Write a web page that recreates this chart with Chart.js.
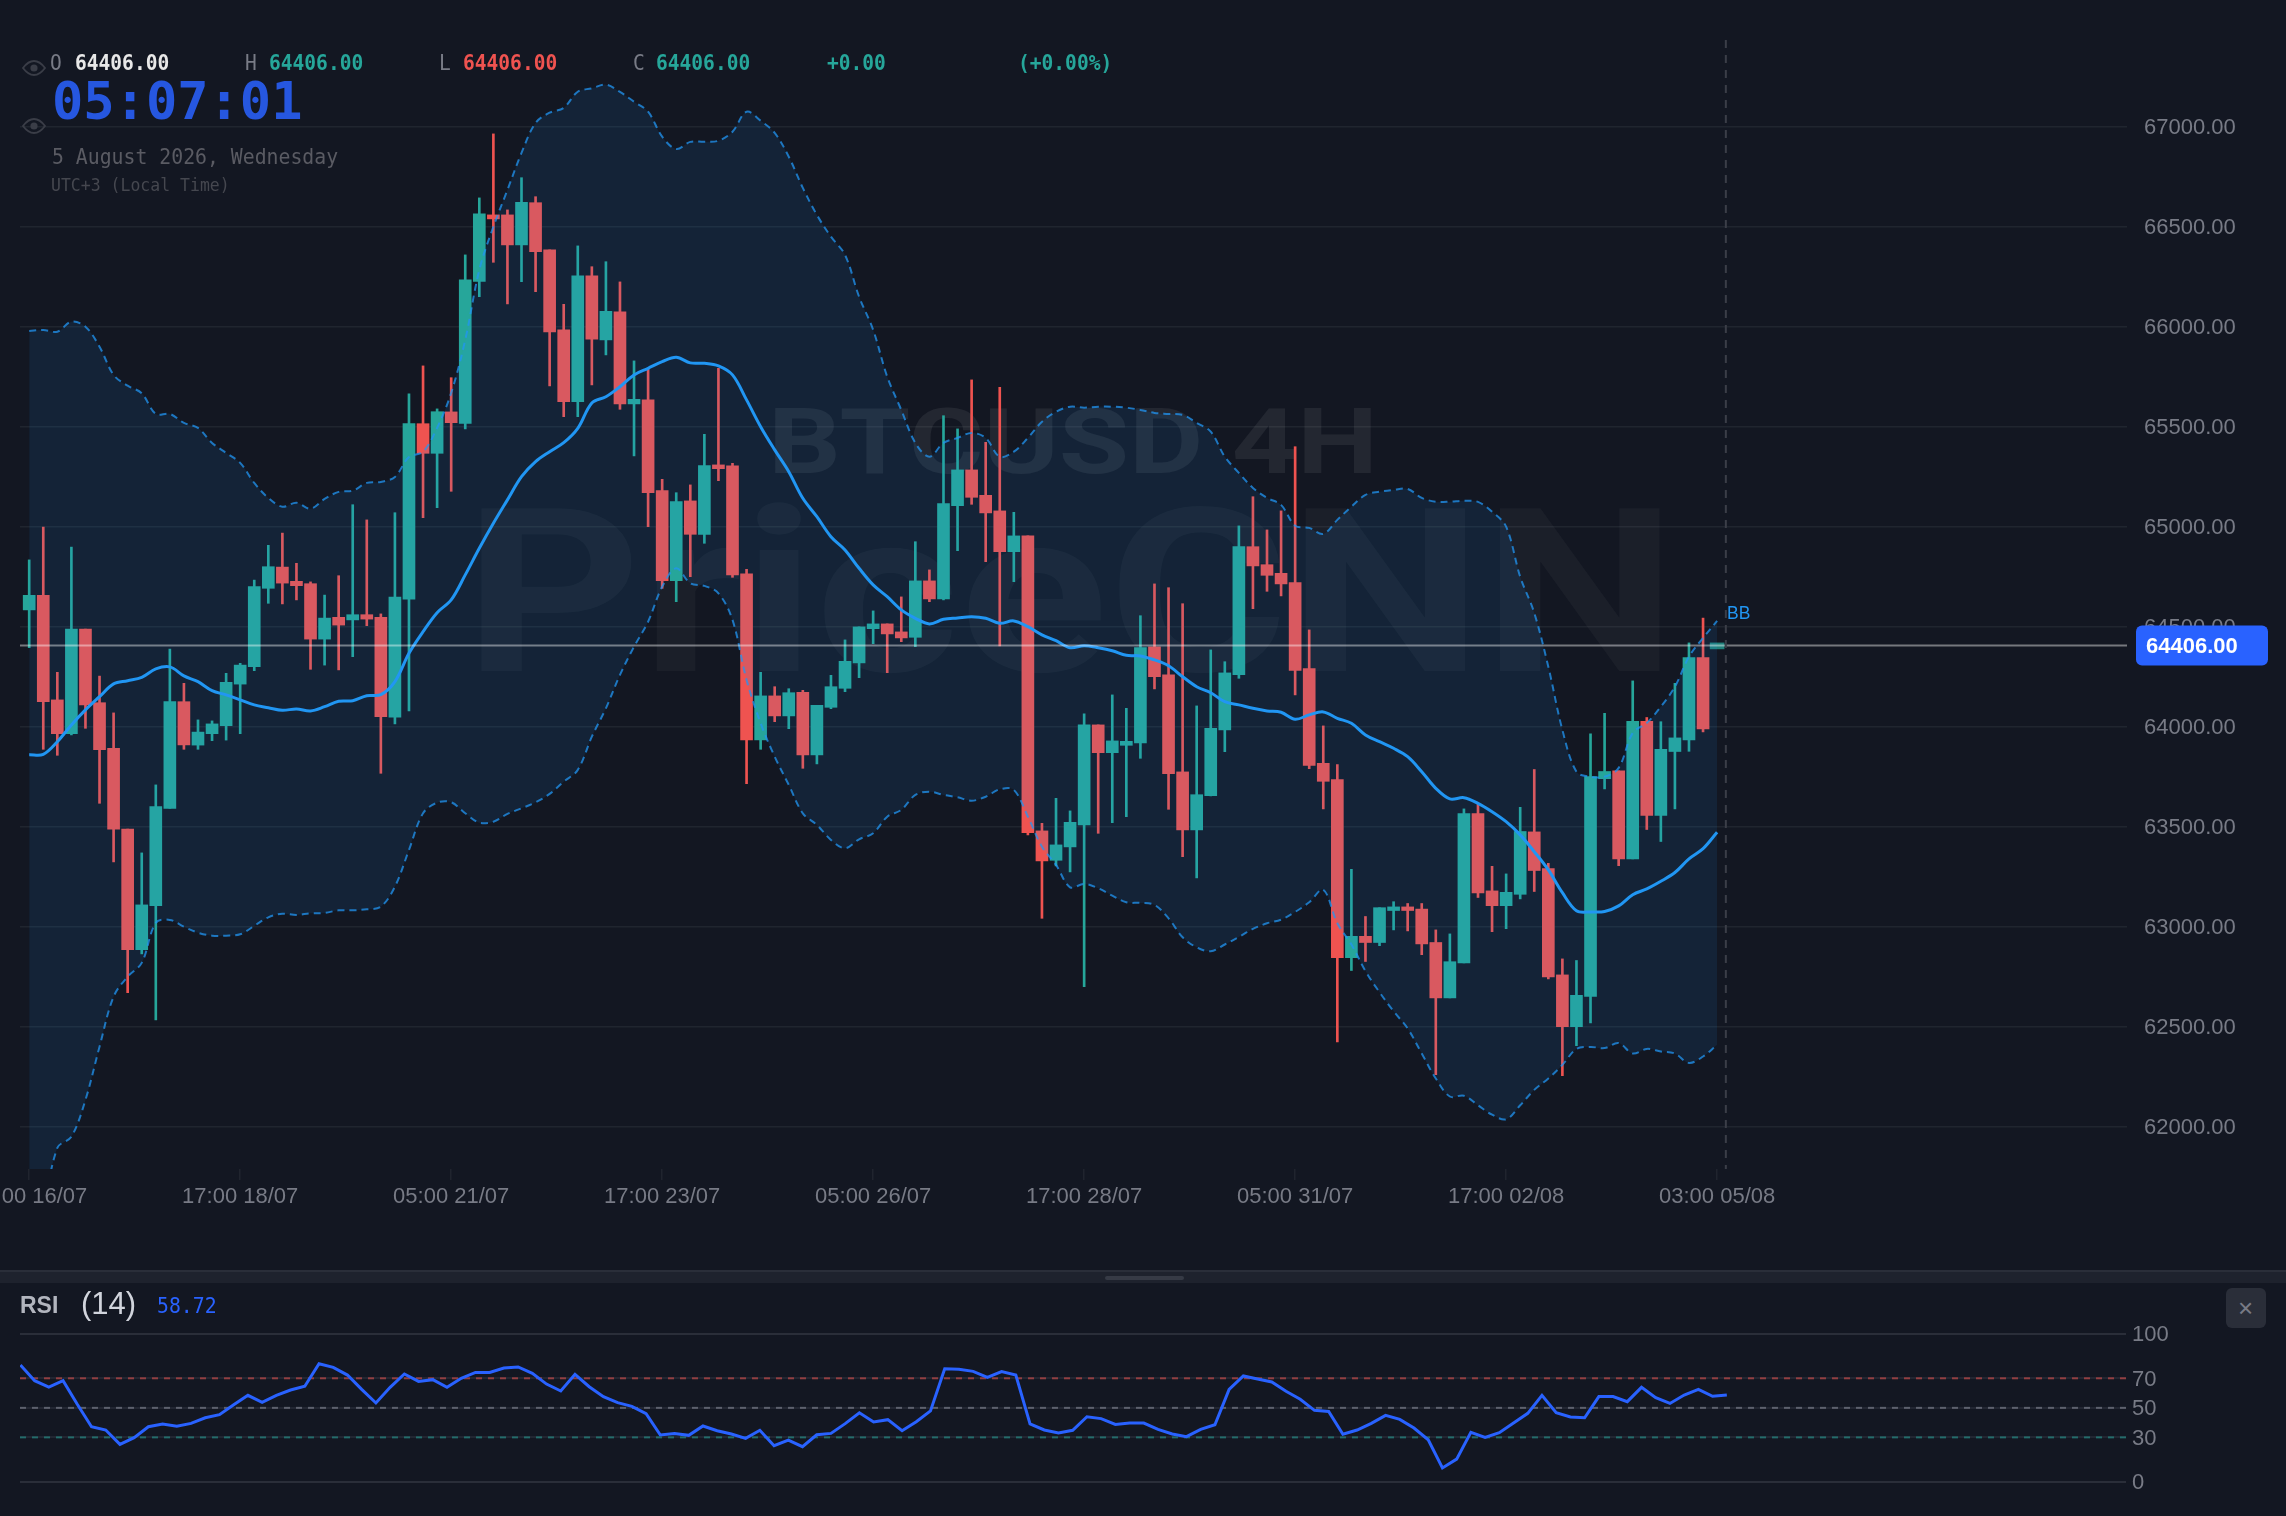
<!DOCTYPE html>
<html><head><meta charset="utf-8">
<script src="https://cdn.jsdelivr.net/npm/chart.js@4"></script>
<style>
html,body{margin:0;padding:0;background:#131722;width:2286px;height:1516px;overflow:hidden}
canvas{position:absolute;left:0;display:block}
.t{position:absolute;white-space:pre;line-height:1;font-family:"DejaVu Sans Mono",monospace;transform-origin:left center}
.s{position:absolute}
</style></head><body>
<canvas id="main" width="2286" height="1270" style="top:0"></canvas>
<canvas id="rsi" width="2286" height="232" style="top:1284px"></canvas>
<div id="ui"></div>
<script>
const opens=[64584,64657,64134,63965,64488,64120,63892,63488,62885,63105,63592,64125,63908,63965,64005,64213,64300,64692,64798,64727,64715,64438,64547,64534,64560,64547,64048,64638,65515,65367,65574,65517,66227,66559,66559,66409,66620,66384,65984,65625,66254,65934,66074,65614,65634,65180,64730,65129,64962,65309,65304,64764,63934,64154,64054,64172,63859,64097,64192,64319,64490,64514,64474,64447,64729,64639,65105,65284,65157,65079,64875,64954,63479,63332,63399,63509,64009,63870,63907,63919,64399,64259,63774,63484,63655,63984,64260,64900,64810,64767,64720,64290,63817,63736,62845,62952,62921,63081,63099,63088,62921,62644,62819,63566,63179,63105,63162,63474,63290,62759,62500,62651,63740,63779,63339,64027,63556,63876,63934,64345];
const highs=[64834,64998,64272,64898,64488,64253,64069,63488,63369,63709,64388,64217,64034,64029,64267,64317,64733,64907,64968,64817,64724,64658,64755,65110,65034,64564,65070,65664,65804,65589,65745,66359,66644,66964,66584,66745,66650,66384,66112,66404,66300,66325,66224,65829,65792,65237,65170,65209,65462,65792,65317,64787,64272,64200,64190,64182,64107,64257,64434,64499,64579,64514,64649,64925,64784,65555,65489,65734,65422,65697,65072,64954,63517,63642,63579,64064,64009,64159,64092,64555,64714,64695,64615,64104,64384,64325,65004,65150,64984,65079,65400,64484,64004,63811,63287,63051,63095,63125,63116,63116,62984,62964,63589,63614,63302,63264,63597,63786,63317,62839,62831,63964,64067,63779,64229,64046,64025,64217,64419,64543];
const lows=[64395,63887,63857,63959,63992,63617,63324,62670,62864,62534,63592,63887,63887,63930,63933,63965,64280,64617,64614,64634,64287,64308,64284,64350,64505,63767,64014,64079,65045,65095,65177,65489,66150,66322,66114,66225,66175,65704,65550,65550,65709,65859,65587,65354,65000,64692,64625,64750,64917,65230,64747,63715,63887,64025,63990,63792,63814,64090,64175,64245,64415,64270,64425,64400,64625,64634,64880,65112,64825,64404,64725,63459,63042,63304,63274,62700,63467,63520,63550,63842,64189,63587,63350,63244,63654,63875,64242,64590,64677,64654,64159,63790,63589,62424,62781,62826,62905,62984,62979,62860,62260,62644,62819,63146,62975,62990,63139,63176,62739,62255,62405,62519,63689,63305,63339,63486,63426,63589,63877,63974];
const closes=[64657,64125,63965,64488,64109,63885,63488,62885,63109,63600,64125,63909,63973,64014,64222,64308,64700,64800,64718,64705,64438,64543,64508,64560,64538,64050,64648,65515,65367,65575,65520,66234,66564,66539,66409,66622,66375,65974,65625,66254,65938,66077,65614,65637,65170,64730,65125,64962,65305,65290,64759,63934,64154,64054,64170,63859,64107,64200,64327,64499,64514,64464,64444,64729,64639,65115,65284,65147,65069,64875,64954,63470,63329,63409,63522,64009,63870,63929,63927,64395,64250,63765,63484,63660,63992,64269,64900,64804,64757,64714,64282,63807,63727,62845,62952,62921,63095,63099,63081,62914,62644,62825,63566,63169,63105,63172,63476,63281,62749,62500,62657,63750,63776,63339,64027,63556,63887,63944,64345,63989];
const currentCandle=[64389,64419];
const bbUpper=[65979,65984,65975,66025,66000,65900,65759,65705,65667,65564,65564,65519,65494,65419,65369,65319,65219,65144,65100,65120,65090,65139,65174,65180,65219,65224,65249,65349,65375,65494,65669,65934,66284,66500,66684,66869,67019,67070,67094,67175,67192,67210,67174,67125,67075,66950,66889,66924,66925,66930,66975,67075,67030,66969,66850,66694,66559,66450,66359,66150,65984,65750,65584,65419,65350,65419,65444,65469,65444,65350,65375,65444,65525,65575,65600,65595,65600,65600,65595,65584,65569,65564,65559,65519,65475,65350,65269,65194,65144,65109,65005,64994,64964,65034,65100,65159,65175,65184,65189,65144,65125,65125,65130,65124,65075,65000,64750,64569,64300,63984,63775,63750,63750,63794,63969,64019,64100,64200,64350,64444,64529];
const bbMiddle=[63860,63862,63925,64009,64084,64150,64214,64230,64247,64289,64299,64254,64225,64180,64159,64134,64109,64095,64082,64089,64079,64100,64127,64130,64155,64160,64225,64367,64475,64570,64634,64759,64892,65017,65134,65250,65325,65375,65420,65492,65619,65650,65700,65759,65792,65825,65847,65819,65817,65804,65759,65634,65500,65384,65275,65142,65050,64950,64884,64792,64709,64650,64584,64542,64514,64537,64544,64550,64542,64517,64529,64500,64459,64430,64395,64405,64395,64380,64357,64354,64334,64305,64250,64200,64170,64125,64109,64092,64079,64072,64037,64059,64074,64042,64017,63959,63925,63892,63850,63775,63692,63639,63645,63617,63575,63525,63459,63375,63284,63170,63080,63074,63076,63104,63160,63189,63227,63271,63339,63390,63472];
const bbLower=[61184,61559,61894,61950,62134,62400,62650,62750,62819,63019,63034,63000,62970,62955,62955,62962,63004,63047,63065,63059,63067,63069,63082,63082,63087,63100,63200,63384,63567,63620,63622,63567,63520,63525,63564,63592,63622,63664,63725,63784,63950,64092,64259,64400,64525,64700,64792,64717,64704,64667,64534,64234,64017,63850,63709,63567,63509,63434,63392,63437,63467,63550,63584,63659,63675,63659,63647,63630,63650,63687,63684,63550,63400,63309,63197,63214,63192,63155,63122,63119,63109,63042,62947,62897,62877,62911,62949,62989,63017,63035,63074,63122,63185,63017,62911,62778,62672,62577,62491,62366,62241,62151,62155,62107,62060,62037,62107,62184,62241,62309,62389,62399,62393,62418,62366,62389,62376,62366,62319,62351,62410];
const rsiValues=[79.0,68.4,64.1,68.4,52.4,37.2,35.0,25.3,29.8,37.2,39.1,37.5,39.5,43.3,45.4,52.1,58.5,53.7,58.5,62.1,64.6,79.9,77.4,72.2,62.5,53.3,63.9,72.9,67.9,69.1,63.9,70.0,74.0,74.0,77.0,77.7,73.4,66.1,61.4,72.7,64.3,57.6,53.5,51.0,46.0,31.6,32.7,31.4,37.7,34.5,32.3,29.3,34.8,24.4,28.2,23.7,31.8,32.7,39.3,46.7,40.4,42.0,34.5,40.6,47.9,76.5,76.1,74.7,70.7,74.5,72.2,39.1,35.0,33.0,34.8,44.0,42.7,38.8,39.7,39.7,35.4,32.3,30.5,35.4,38.6,62.5,71.6,69.5,67.5,61.2,55.8,48.3,47.6,32.1,35.0,39.5,44.9,42.2,36.3,28.4,9.3,15.3,33.4,30.0,33.2,39.7,46.3,58.5,46.7,43.8,43.3,57.6,57.6,54.2,63.9,56.9,53.0,58.7,62.5,57.8,58.72];
const timeLabels=['05:00 16/07','17:00 18/07','05:00 21/07','17:00 23/07','05:00 26/07','17:00 28/07','05:00 31/07','17:00 02/08','03:00 05/08'];
const priceTicks=[62000,62500,63000,63500,64000,64500,65000,65500,66000,66500,67000];
const lastPrice=64406;
const rsiLevels=[70,50,30];
const rsiTicks=[100,70,50,30,0];

const UP='#26a69a',DOWN='#ef5350',GREY='#787b86',BAND='#2196f3';
Chart.defaults.font.family='"Liberation Sans",Arial,sans-serif';
Chart.defaults.animation=false;
const idx=bbMiddle.map((_,i)=>i);
const hist=opens.map((_,i)=>i);
const isUp=i=>closes[i]>=opens[i];
const candleColor=c=>isUp(c.dataIndex)?UP:DOWN;
const nudgeLabels={id:'nudgeLabels',beforeDraw(ch){
  const s=ch.scales.y;
  if(s._nudged)return;
  s.getLabelItems(ch.chartArea).forEach(it=>{it.options.translation[1]+=1.3;});
  s._nudged=true;
}};

const mainPlugin={id:'overlay',
 beforeDatasetsDraw(ch){
  const c=ch.ctx,a=ch.chartArea;
  c.save();c.beginPath();c.rect(a.left,a.top,a.right-a.left,a.bottom-a.top);c.clip();
  c.textBaseline='alphabetic';c.textAlign='left';
  const fit=(txt,font,x,base,w,col)=>{c.font=font;const m=c.measureText(txt).width;c.save();c.translate(x,base);c.scale(w/m,1);c.fillStyle=col;c.fillText(txt,0,0);c.restore();};
  fit('PriceCNN','bold 229px Roboto',464,671,1213,'rgba(255,255,255,0.035)');
  fit('BTCUSD 4H','bold 91px Roboto',768,473,610,'rgba(255,255,255,0.07)');
  c.restore();
 },
 afterDatasetsDraw(ch){
  const c=ch.ctx,a=ch.chartArea,y=ch.scales.y.getPixelForValue(lastPrice),x=ch.scales.x.getPixelForValue(120.62);
  c.save();
  c.strokeStyle='rgba(255,255,255,0.42)';c.lineWidth=2;c.beginPath();c.moveTo(a.left,y);c.lineTo(a.right,y);c.stroke();
  c.strokeStyle='#3b3e48';c.setLineDash([8,7]);c.beginPath();c.moveTo(x,a.top);c.lineTo(x,a.bottom);c.stroke();
  c.setLineDash([]);
  c.font='17.5px "Liberation Sans"';c.fillStyle=BAND;c.textAlign='left';c.textBaseline='middle';c.fillText('BB',1727,614);
  c.restore();
 },
 afterDraw(ch){
  const c=ch.ctx,y=ch.scales.y.getPixelForValue(lastPrice);
  c.save();c.fillStyle='#2962ff';c.beginPath();c.roundRect(2136,y-20,132,40,6);c.fill();
  c.fillStyle='#fff';c.font='bold 22px "Liberation Sans"';c.textAlign='left';c.textBaseline='middle';
  c.fillText(lastPrice.toFixed(2),2146,y+1);c.restore();
 }};

new Chart(document.getElementById('main'),{
 type:'bar',
 data:{datasets:[
  {type:'bar',label:'Wick',data:hist.map(i=>({x:i,y:[lows[i],highs[i]]})),backgroundColor:candleColor,barThickness:2,maxBarThickness:2,grouped:false,barPercentage:1,categoryPercentage:1,order:10},
  {type:'bar',label:'Body',data:hist.map(i=>({x:i,y:[opens[i],closes[i]]})),backgroundColor:candleColor,barThickness:12,maxBarThickness:12,grouped:false,barPercentage:1,categoryPercentage:1,order:9},
  {type:'bar',label:'Current',data:[{x:hist.length,y:currentCandle}],backgroundColor:'rgba(38,166,154,0.75)',barThickness:14,maxBarThickness:14,grouped:false,barPercentage:1,categoryPercentage:1,order:8},
  {type:'line',label:'BB upper',data:idx.map(i=>({x:i,y:bbUpper[i]})),borderColor:'rgba(33,150,243,0.75)',borderWidth:2,borderDash:[7,5],pointRadius:0,tension:0.35,fill:{target:4},backgroundColor:'rgba(33,150,243,0.1)',order:3},
  {type:'line',label:'BB lower',data:idx.map(i=>({x:i,y:bbLower[i]})),borderColor:'rgba(33,150,243,0.75)',borderWidth:2,borderDash:[7,5],pointRadius:0,tension:0.35,fill:false,order:2},
  {type:'line',label:'BB middle',data:idx.map(i=>({x:i,y:bbMiddle[i]})),borderColor:BAND,borderWidth:3,pointRadius:0,tension:0.35,fill:false,order:1}
 ]},
 options:{responsive:false,devicePixelRatio:1,
  layout:{padding:{left:20,top:40,right:0,bottom:0}},
  plugins:{legend:{display:false},tooltip:{enabled:false}},
  scales:{
   x:{type:'linear',min:-0.654,max:149.14,offset:false,
    border:{display:false},
    grid:{offset:false,drawOnChartArea:false,drawTicks:true,tickLength:11,color:'#20242e',lineWidth:1.5},
    ticks:{stepSize:15,autoSkip:false,maxRotation:0,minRotation:0,includeBounds:false,padding:4,color:GREY,font:{size:22},
     callback:v=>timeLabels[v/15]||''},
    afterBuildTicks:s=>{s.ticks=timeLabels.map((_,k)=>({value:k*15}));},
    afterFit:s=>{s.height=101;s.paddingLeft=0;s.paddingRight=0;s.paddingTop=0;s.paddingBottom=0;}},
   y:{type:'linear',position:'right',min:61788.5,max:67433.5,
    border:{display:false},
    grid:{drawTicks:false,color:'rgba(42,46,57,0.6)',lineWidth:1.6},
    ticks:{autoSkip:false,padding:17,color:GREY,font:{size:22},callback:v=>v.toFixed(2)},
    afterBuildTicks:s=>{s.ticks=priceTicks.map(value=>({value}));},
    afterFit:s=>{s.width=159;s.paddingTop=0;s.paddingBottom=0;}}
  }},
 plugins:[nudgeLabels,mainPlugin]
});

const levelColors=['rgba(239,83,80,0.55)','rgba(120,123,134,0.7)','rgba(38,166,154,0.55)'];
const rsiMin=-0.028,rsiMax=148.07;
new Chart(document.getElementById('rsi'),{
 type:'line',
 data:{datasets:[
  ...rsiLevels.map((v,k)=>({label:'L'+v,data:[{x:rsiMin,y:v},{x:rsiMax,y:v}],borderColor:levelColors[k],borderWidth:2,borderDash:[6,6],pointRadius:0,order:5})),
  {label:'RSI',data:rsiValues.map((v,i)=>({x:i,y:v})),borderColor:'#2962ff',borderWidth:3,pointRadius:0,tension:0,order:1}
 ]},
 options:{responsive:false,devicePixelRatio:1,
  layout:{padding:{left:20,top:50,right:0,bottom:34.3}},
  plugins:{legend:{display:false},tooltip:{enabled:false}},
  scales:{
   x:{type:'linear',min:rsiMin,max:rsiMax,display:false},
   y:{type:'linear',position:'right',min:0,max:100,
    border:{display:false},
    grid:{drawTicks:false,color:c=>(c.tick&&(c.tick.value===100||c.tick.value===0))?'#2a2e39':'rgba(42,46,57,0.7)',lineWidth:2},
    ticks:{padding:6,color:GREY,font:{size:22},autoSkip:false,callback:v=>String(v)},
    afterBuildTicks:s=>{s.ticks=rsiTicks.map(value=>({value}));},
    afterFit:s=>{s.width=160;s.paddingTop=0;s.paddingBottom=0;}}
  }},
 plugins:[nudgeLabels]
});

// Page furniture
const ui=document.getElementById('ui');
const T=(txt,x,cy,size,color,weight,extra)=>{const d=document.createElement('div');d.className='t';d.textContent=txt;
 d.style.cssText=`left:${x}px;top:${cy-size/2}px;font-size:${size}px;color:${color};font-weight:${weight||400};${extra||''}`;ui.appendChild(d);};
const hdr='transform:scaleX(0.91);';
T('O',50,63,21.5,'#787b86',400,hdr);T('64406.00',74.6,63,21.5,'#e8e8e8',700,hdr);
T('H',245,63,21.5,'#787b86',400,hdr);T('64406.00',269,63,21.5,UP,700,hdr);
T('L',439,63,21.5,'#787b86',400,hdr);T('64406.00',463,63,21.5,DOWN,700,hdr);
T('C',633,63,21.5,'#787b86',400,hdr);T('64406.00',656,63,21.5,UP,700,hdr);
T('+0.00',827,63,21.5,UP,700,hdr);
T('(+0.00%)',1018,63,21.5,UP,700,hdr);
T('05:07:01',52,101,52,'#2657e0',700);
T('5 August 2026, Wednesday',51.5,157,22,'#5a5b63',400,'transform:scaleX(0.9);');
T('UTC+3 (Local Time)',51,185,17,'#45474f',400,'transform:scaleX(0.97);');
const eye=(cx,cy)=>{const s=document.createElement('div');s.className='s';s.style.cssText=`left:${cx-12}px;top:${cy-8}px;width:24px;height:16px`;
 s.innerHTML='<svg width="24" height="16" viewBox="0 0 24 16"><path d="M1 8C5 2.6 8.5 1 12 1s7 1.6 11 7c-4 5.4-7.500 7-11 7S5 13.400 1 8z" fill="none" stroke="#3a3d47" stroke-width="1.800"/><circle cx="12" cy="8" r="3.600" fill="#3a3d47"/></svg>';ui.appendChild(s);};
eye(34,68);eye(34,126);
const box=(x,y,w,h,bg,r)=>{const d=document.createElement('div');d.className='s';d.style.cssText=`left:${x}px;top:${y}px;width:${w}px;height:${h}px;background:${bg};border-radius:${r||0}px`;ui.appendChild(d);return d;};
box(0,1270,2286,2,'#2a2e39');box(0,1272,2286,11,'#1e222d');box(1105,1276,79,4,'#363a45',2);
T('RSI',20,1305,23,'#b2b5be',700,'font-family:"Liberation Sans";');
T('(14)',81,1303,31,'#d1d4dc',400,'font-family:"Liberation Sans";');
T('58.72',157,1306,21.5,'#2962ff',400,'transform:scaleX(0.92);');
box(2226,1288,40,40,'#2a2e39',6);
T('×',2238,1308,26,'#787b86',400,'font-family:"Liberation Sans";');
</script>
</body></html>
